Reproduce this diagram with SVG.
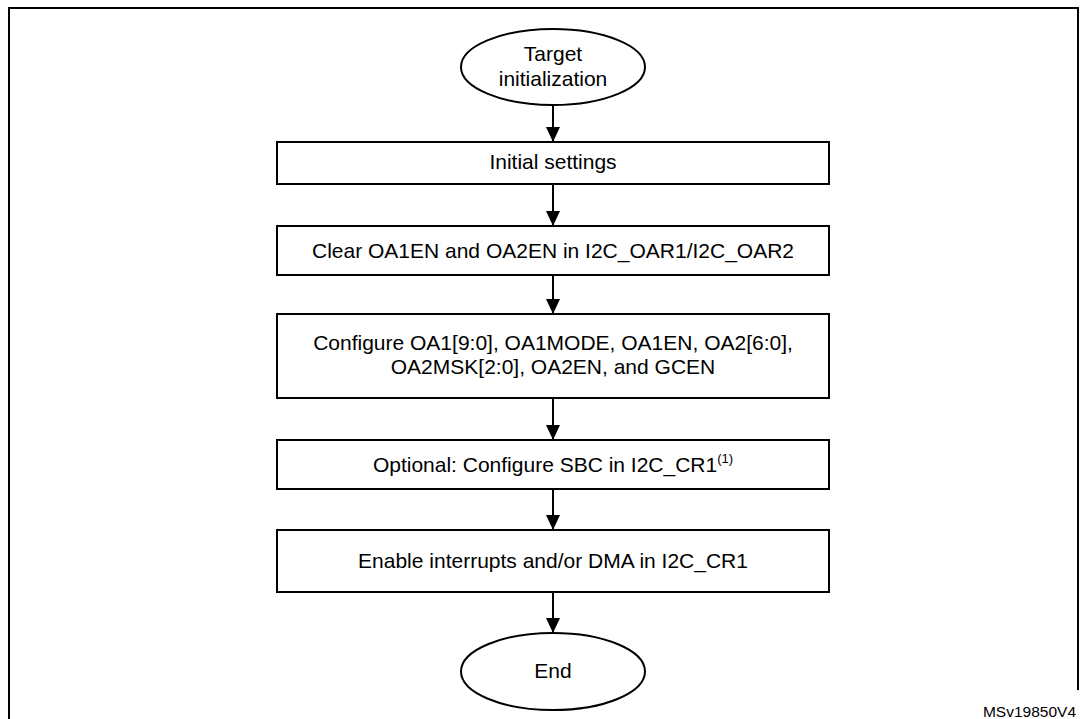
<svg xmlns="http://www.w3.org/2000/svg" width="1087" height="719" viewBox="0 0 1087 719">
<defs>
<style>
.shape{fill:#fff;stroke:#000;stroke-width:2}
.lbl{font-family:"Liberation Sans",Arial,sans-serif;font-size:21px;fill:#000;text-anchor:middle}
.con{stroke:#000;stroke-width:2;fill:none}
.frame{stroke:#000;stroke-width:2;fill:none}
</style>
<marker id="ah" viewBox="0 0 15 14" refX="15" refY="7" markerWidth="15" markerHeight="14" markerUnits="userSpaceOnUse" orient="auto">
<path d="M0 0 L15 7 L0 14 Z" fill="#000"/>
</marker>
</defs>
<rect width="1087" height="719" fill="#fff"/>
<path class="frame" d="M9 719 V8 H1078 V690"/>
<g id="start">
<ellipse class="shape" cx="553" cy="67" rx="92" ry="38"/>
<text class="lbl" x="553" y="61">Target</text>
<text class="lbl" x="553" y="86">initialization</text>
</g>
<g id="initial-settings">
<rect class="shape" x="277" y="142" width="552" height="42"/>
<text class="lbl" x="553" y="169">Initial settings</text>
</g>
<g id="clear-oa">
<rect class="shape" x="277" y="226" width="552" height="49"/>
<text class="lbl" x="553" y="258">Clear OA1EN and OA2EN in I2C_OAR1/I2C_OAR2</text>
</g>
<g id="configure-oa">
<rect class="shape" x="277" y="314" width="552" height="84"/>
<text class="lbl" x="553" y="350">Configure OA1[9:0], OA1MODE, OA1EN, OA2[6:0],</text>
<text class="lbl" x="553" y="374">OA2MSK[2:0], OA2EN, and GCEN</text>
</g>
<g id="optional-sbc">
<rect class="shape" x="277" y="440" width="552" height="49"/>
<text class="lbl" x="553" y="472">Optional: Configure SBC in I2C_CR1<tspan font-size="13" dy="-9">(1)</tspan></text>
</g>
<g id="enable-irq">
<rect class="shape" x="277" y="530" width="552" height="62"/>
<text class="lbl" x="553" y="568">Enable interrupts and/or DMA in I2C_CR1</text>
</g>
<g id="end">
<ellipse class="shape" cx="553" cy="671.5" rx="92" ry="38.5"/>
<text class="lbl" x="553" y="678">End</text>
</g>
<g id="connectors">
<line class="con" x1="553" y1="105" x2="553" y2="142" marker-end="url(#ah)"/>
<line class="con" x1="553" y1="184" x2="553" y2="226" marker-end="url(#ah)"/>
<line class="con" x1="553" y1="275" x2="553" y2="314" marker-end="url(#ah)"/>
<line class="con" x1="553" y1="398" x2="553" y2="440" marker-end="url(#ah)"/>
<line class="con" x1="553" y1="489" x2="553" y2="530" marker-end="url(#ah)"/>
<line class="con" x1="553" y1="592" x2="553" y2="633" marker-end="url(#ah)"/>
</g>
<text x="1076" y="717" font-family="'Liberation Sans',Arial,sans-serif" font-size="15.5" text-anchor="end" fill="#000">MSv19850V4</text>
</svg>
